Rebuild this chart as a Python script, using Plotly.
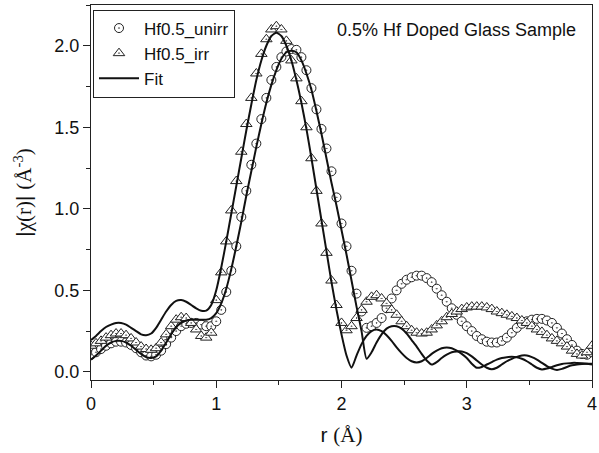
import plotly.graph_objects as go

# r grid (Å), step 0.04
r = [round(0.04 * i, 2) for i in range(101)]

# Hf0.5_unirr (circles)
unirr = [
    0.105, 0.12, 0.14, 0.16, 0.175, 0.185, 0.185, 0.18, 0.165, 0.145,
    0.12, 0.10, 0.095, 0.105, 0.13, 0.17, 0.21, 0.25, 0.28, 0.295,
    0.30, 0.30, 0.29, 0.28, 0.28, 0.31, 0.38, 0.49, 0.62, 0.77,
    0.95, 1.11, 1.27, 1.40, 1.55, 1.68, 1.79, 1.87, 1.93, 1.965,
    1.98, 1.975, 1.93, 1.85, 1.74, 1.61, 1.49, 1.37, 1.23, 1.07,
    0.91, 0.77, 0.62, 0.48, 0.37, 0.27, 0.28, 0.30, 0.33, 0.39,
    0.45, 0.50, 0.54, 0.565, 0.58, 0.59, 0.59, 0.575, 0.55, 0.51,
    0.47, 0.43, 0.39, 0.35, 0.31, 0.28, 0.25, 0.22, 0.20, 0.185,
    0.18, 0.18, 0.19, 0.21, 0.24, 0.27, 0.295, 0.31, 0.32, 0.325,
    0.325, 0.315, 0.30, 0.27, 0.235, 0.20, 0.165, 0.13, 0.11, 0.105,
    0.12,
]

# Hf0.5_irr (triangles)
irr = [
    0.16, 0.175, 0.19, 0.21, 0.225, 0.235, 0.235, 0.225, 0.205, 0.18,
    0.155, 0.14, 0.135, 0.145, 0.18, 0.23, 0.28, 0.32, 0.335, 0.33,
    0.30, 0.26, 0.22, 0.21, 0.24, 0.44, 0.61, 0.80, 0.99, 1.17,
    1.35, 1.52, 1.68, 1.83, 1.95, 2.04, 2.10, 2.12, 2.10, 2.03,
    1.91, 1.80, 1.66, 1.50, 1.31, 1.11, 0.91, 0.73, 0.56, 0.41,
    0.30, 0.255, 0.28, 0.33, 0.38, 0.43, 0.46, 0.47, 0.45, 0.42,
    0.38, 0.35, 0.31, 0.28, 0.255, 0.24, 0.235, 0.24, 0.26, 0.285,
    0.31, 0.335, 0.355, 0.37, 0.385, 0.395, 0.40, 0.40, 0.40, 0.395,
    0.385, 0.37, 0.36, 0.35, 0.34, 0.33, 0.315, 0.30, 0.28, 0.26,
    0.245, 0.225, 0.205, 0.19, 0.175, 0.155, 0.13, 0.11, 0.10, 0.12,
    0.16,
]

# Fit for irr
fit_irr = [
    0.195, 0.22, 0.25, 0.275, 0.29, 0.30, 0.30, 0.29, 0.27, 0.25,
    0.23, 0.225, 0.235, 0.27, 0.32, 0.37, 0.41, 0.435, 0.44, 0.43,
    0.41, 0.39, 0.375, 0.375, 0.41, 0.50, 0.64, 0.80, 0.97, 1.14,
    1.31, 1.48, 1.64, 1.79, 1.91, 2.00, 2.06, 2.08, 2.06, 2.00,
    1.91, 1.79, 1.65, 1.49, 1.31, 1.12, 0.93, 0.74, 0.55, 0.38,
    0.23, 0.10, 0.025, 0.10, 0.17, 0.22, 0.25, 0.26, 0.25, 0.225,
    0.19, 0.15, 0.115, 0.085, 0.065, 0.058, 0.065, 0.085, 0.11, 0.13,
    0.145, 0.15, 0.145, 0.13, 0.11, 0.085, 0.05, 0.025, 0.03, 0.045,
    0.06, 0.075, 0.085, 0.09, 0.093, 0.09, 0.08, 0.065, 0.045, 0.025,
    0.015, 0.02, 0.03, 0.04, 0.048, 0.052, 0.055, 0.055, 0.053, 0.05,
    0.045,
]

# Fit for unirr
fit_unirr = [
    0.075, 0.10, 0.13, 0.16, 0.18, 0.19, 0.19, 0.18, 0.16, 0.135,
    0.11, 0.09, 0.085, 0.095, 0.13, 0.18, 0.23, 0.275, 0.30, 0.315,
    0.32, 0.32, 0.32, 0.32, 0.33, 0.36, 0.42, 0.51, 0.63, 0.77,
    0.92, 1.08, 1.23, 1.38, 1.52, 1.65, 1.76, 1.85, 1.92, 1.96,
    1.97, 1.96, 1.91, 1.83, 1.73, 1.60, 1.46, 1.31, 1.16, 1.02,
    0.87, 0.72, 0.56, 0.40, 0.25, 0.08, 0.12, 0.18, 0.23, 0.265,
    0.28, 0.28, 0.265, 0.235, 0.195, 0.155, 0.11, 0.07, 0.045, 0.06,
    0.085, 0.105, 0.12, 0.125, 0.125, 0.115, 0.095, 0.07, 0.045, 0.025,
    0.016, 0.025, 0.045, 0.065, 0.08, 0.092, 0.10, 0.10, 0.09, 0.075,
    0.055, 0.035, 0.02, 0.012, 0.018, 0.03, 0.04, 0.045, 0.048, 0.05,
    0.05,
]

x_ticks = [0, 1, 2, 3, 4]
y_ticks = [0.0, 0.5, 1.0, 1.5, 2.0]

SANS = "Liberation Sans, Arial, sans-serif"
SERIF = "Liberation Serif, Times New Roman, serif"

fig = go.Figure()
fig.add_trace(go.Scatter(
    x=r, y=unirr, mode="markers", name="Hf0.5_unirr",
    marker=dict(symbol="circle-dot", size=9, color="white",
                line=dict(color="#222", width=1)),
))
fig.add_trace(go.Scatter(
    x=r, y=irr, mode="markers", name="Hf0.5_irr",
    marker=dict(symbol="triangle-up-dot", size=10, color="white",
                line=dict(color="#222", width=1)),
))
fig.add_trace(go.Scatter(
    x=r, y=fit_irr, mode="lines", name="Fit",
    line=dict(color="#111", width=2, shape="spline", smoothing=0.6),
))
fig.add_trace(go.Scatter(
    x=r, y=fit_unirr, mode="lines", name="Fit", showlegend=False,
    line=dict(color="#111", width=2, shape="spline", smoothing=0.6),
))

fig.add_annotation(
    text="0.5% Hf Doped Glass Sample", xref="paper", yref="paper",
    x=0.729, y=0.933, xanchor="center", yanchor="middle", showarrow=False,
    font=dict(family=SANS, size=18, color="#111"),
)

axis_common = dict(
    showline=True, linecolor="#222", linewidth=1.3, mirror=True,
    ticks="outside", ticklen=7, tickwidth=1.3, tickcolor="#222",
    showgrid=False, zeroline=False, ticklabeloverflow="allow",
    tickfont=dict(family=SANS, size=18, color="#111"),
)

fig.update_layout(
    width=599, height=453,
    margin=dict(l=91, r=2, t=5, b=73),
    paper_bgcolor="white", plot_bgcolor="white",
    showlegend=True,
    legend=dict(
        x=0.004, y=0.988, xanchor="left", yanchor="top",
        bgcolor="white", bordercolor="#222", borderwidth=1,
        font=dict(family=SANS, size=17, color="#111"),
        tracegroupgap=0, itemwidth=40,
    ),
    xaxis=dict(
        range=[0, 4], tickvals=x_ticks, ticktext=[str(v) for v in x_ticks],
        minor=dict(dtick=0.5, ticks="outside", ticklen=4, tickcolor="#222", tickwidth=1.3),
        title=dict(text='r <span style="font-family:Liberation Serif">(Å)</span>',
                   font=dict(family=SANS, size=21, color="#111"), standoff=14),
        **axis_common,
    ),
    yaxis=dict(
        range=[-0.05, 2.25], tickvals=y_ticks, ticktext=[f"{v:.1f}" for v in y_ticks],
        minor=dict(dtick=0.25, ticks="outside", ticklen=4, tickcolor="#222", tickwidth=1.3),
        title=dict(text='|<span style="font-family:Liberation Serif">χ(r)</span>| '
                        '<span style="font-family:Liberation Serif">(Å<sup>-3</sup>)</span>',
                   font=dict(family=SANS, size=21, color="#111"), standoff=16),
        **axis_common,
    ),
)

fig.write_html("out.html")
